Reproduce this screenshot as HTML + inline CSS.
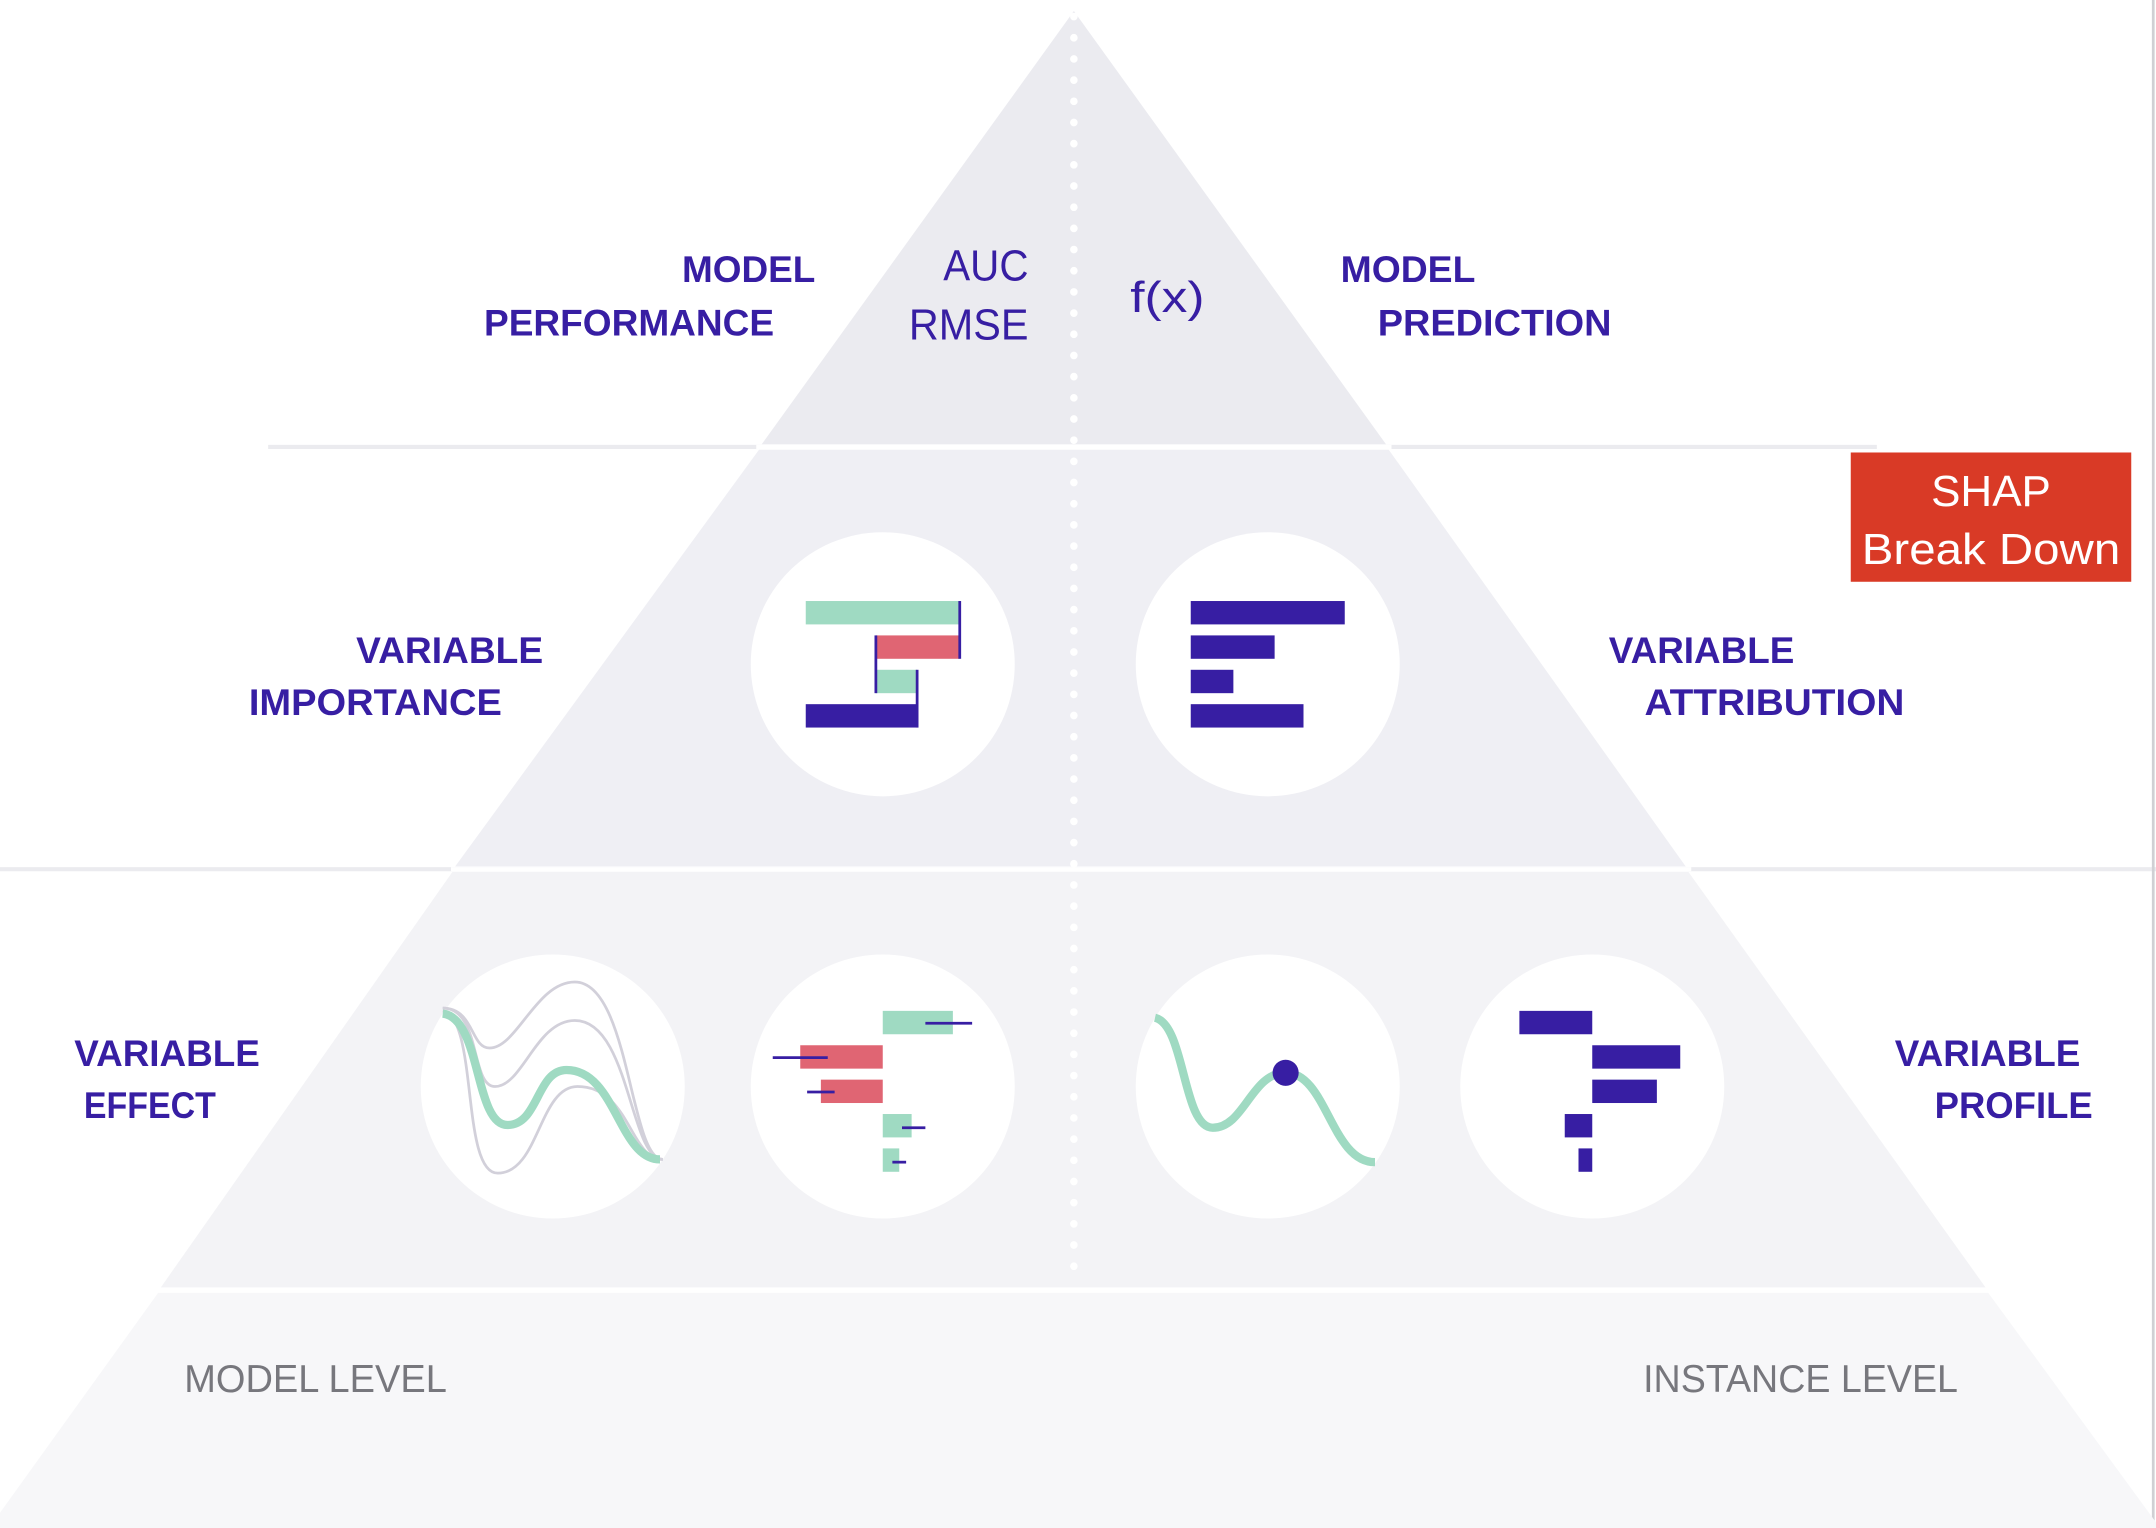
<!DOCTYPE html>
<html><head><meta charset="utf-8"><style>
html,body{margin:0;padding:0;background:#fff;}
svg{display:block;}
.lb{font-family:"Liberation Sans",sans-serif;font-weight:bold;font-size:27px;fill:#371ea3;}
.mt{font-family:"Liberation Sans",sans-serif;font-size:32px;fill:#371ea3;}
.lv{font-family:"Liberation Sans",sans-serif;font-size:28px;fill:#77777d;}
.sh{font-family:"Liberation Sans",sans-serif;font-size:32px;fill:#fff;}
</style></head><body>
<svg width="2156" height="1528" viewBox="0 0 1568 1111" preserveAspectRatio="none" xmlns="http://www.w3.org/2000/svg">
<rect width="1568" height="1111" fill="#fff"/>
<line x1="195" y1="325" x2="1365" y2="325" stroke="#ebebef" stroke-width="3"/>
<line x1="0" y1="632" x2="1568" y2="632" stroke="#ebebef" stroke-width="3"/>
<line x1="1566" y1="0" x2="1566" y2="1111" stroke="#d0d0d4" stroke-width="2"/>
<polygon points="781,8 1008,323 554,323" fill="#ebebf0"/>
<polygon points="552,327 1010,327 1226,630 331,630" fill="#efeff4"/>
<polygon points="329,634 1228,634 1444,936 117,936" fill="#f3f3f6"/>
<polygon points="115,940 1446,940 1571,1111 -8,1111" fill="#f7f7f9"/>
<g stroke="#fff" stroke-width="3">
<line x1="550" y1="325" x2="1012" y2="325"/>
<line x1="328" y1="632" x2="1230" y2="632"/>
<line x1="112" y1="938" x2="1449" y2="938"/>
</g>
<line x1="781" y1="12" x2="781" y2="928" stroke="#fff" stroke-width="5.5" stroke-linecap="round" stroke-dasharray="0.1 15.3"/>
<g fill="#fff">
<circle cx="642" cy="483" r="96"/><circle cx="922" cy="483" r="96"/>
<circle cx="402" cy="790" r="96"/><circle cx="642" cy="790" r="96"/>
<circle cx="922" cy="790" r="96"/><circle cx="1158" cy="790" r="96"/>
</g>
<rect x="586" y="437" width="112" height="17" fill="#9fdac2"/>
<rect x="637" y="462" width="61" height="17" fill="#e06573"/>
<rect x="637" y="487" width="30" height="17" fill="#9fdac2"/>
<rect x="586" y="512" width="82" height="17" fill="#371ea3"/>
<g stroke="#371ea3" stroke-width="2">
<line x1="698" y1="437" x2="698" y2="479"/><line x1="637" y1="462" x2="637" y2="504"/><line x1="667" y1="487" x2="667" y2="529"/>
</g>
<g fill="#371ea3">
<rect x="866" y="437" width="112" height="17"/><rect x="866" y="462" width="61" height="17"/>
<rect x="866" y="487" width="31" height="17"/><rect x="866" y="512" width="82" height="17"/>
</g>
<g fill="none" stroke="#d2d0da" stroke-width="2">
<path d="M322,733 C345,733 342,762 356,762 C376,762 390,714 418,714 C458,714 458,843 482,843"/>
<path d="M322,733 C350,733 342,790 360,790 C380,790 390,742 418,742 C458,742 458,843 482,843"/>
<path d="M322,735 C348,740 335,853 362,853 C392,853 392,790 420,790 C458,790 458,843 482,843"/>
</g>
<path d="M322,737 C350,740 345,818 369,818 C392,818 390,778 412,778 C448,778 450,843 480,843" fill="none" stroke="#9fdac2" stroke-width="6"/>
<g fill="#9fdac2"><rect x="642" y="735" width="51" height="17"/><rect x="642" y="810" width="21" height="17"/><rect x="642" y="835" width="12" height="17"/></g>
<g fill="#e06573"><rect x="582" y="760" width="60" height="17"/><rect x="597" y="785" width="45" height="17"/></g>
<g stroke="#371ea3" stroke-width="2">
<line x1="673" y1="744" x2="707" y2="744"/><line x1="562" y1="769" x2="602" y2="769"/><line x1="587" y1="794" x2="607" y2="794"/><line x1="656" y1="820" x2="673" y2="820"/><line x1="649" y1="845" x2="659" y2="845"/>
</g>
<path d="M840,740 C862,745 860,820 882,820 C905,820 910,780 935,780 C965,780 968,845 1000,845" fill="none" stroke="#9fdac2" stroke-width="6"/>
<circle cx="935" cy="780" r="9.5" fill="#371ea3"/>
<g fill="#371ea3">
<rect x="1105" y="735" width="53" height="17"/><rect x="1158" y="760" width="64" height="17"/>
<rect x="1158" y="785" width="47" height="17"/><rect x="1138" y="810" width="20" height="17"/>
<rect x="1148" y="835" width="10" height="17"/>
</g>
<text class="lb" x="496" y="205" textLength="97" lengthAdjust="spacingAndGlyphs">MODEL</text>
<text class="lb" x="352" y="244" textLength="211" lengthAdjust="spacingAndGlyphs">PERFORMANCE</text>
<text class="mt" x="686" y="204" textLength="62" lengthAdjust="spacingAndGlyphs">AUC</text>
<text class="mt" x="661" y="247" textLength="87" lengthAdjust="spacingAndGlyphs">RMSE</text>
<text class="mt" x="822" y="227" textLength="54" lengthAdjust="spacingAndGlyphs">f(x)</text>
<text class="lb" x="975" y="205" textLength="98" lengthAdjust="spacingAndGlyphs">MODEL</text>
<text class="lb" x="1002" y="244" textLength="170" lengthAdjust="spacingAndGlyphs">PREDICTION</text>
<text class="lb" x="259" y="482" textLength="136" lengthAdjust="spacingAndGlyphs">VARIABLE</text>
<text class="lb" x="181" y="520" textLength="184" lengthAdjust="spacingAndGlyphs">IMPORTANCE</text>
<text class="lb" x="1170" y="482" textLength="135" lengthAdjust="spacingAndGlyphs">VARIABLE</text>
<text class="lb" x="1196" y="520" textLength="189" lengthAdjust="spacingAndGlyphs">ATTRIBUTION</text>
<text class="lb" x="54" y="775" textLength="135" lengthAdjust="spacingAndGlyphs">VARIABLE</text>
<text class="lb" x="61" y="813" textLength="96" lengthAdjust="spacingAndGlyphs">EFFECT</text>
<text class="lb" x="1378" y="775" textLength="135" lengthAdjust="spacingAndGlyphs">VARIABLE</text>
<text class="lb" x="1407" y="813" textLength="115" lengthAdjust="spacingAndGlyphs">PROFILE</text>
<text class="lv" x="134" y="1012" textLength="191" lengthAdjust="spacingAndGlyphs">MODEL LEVEL</text>
<text class="lv" x="1195" y="1012" textLength="229" lengthAdjust="spacingAndGlyphs">INSTANCE LEVEL</text>
<rect x="1346" y="329" width="204" height="94" fill="#d93a26"/>
<text class="sh" x="1448" y="368" text-anchor="middle">SHAP</text>
<text class="sh" x="1448" y="410" text-anchor="middle" textLength="188" lengthAdjust="spacingAndGlyphs">Break Down</text>
</svg>
</body></html>
